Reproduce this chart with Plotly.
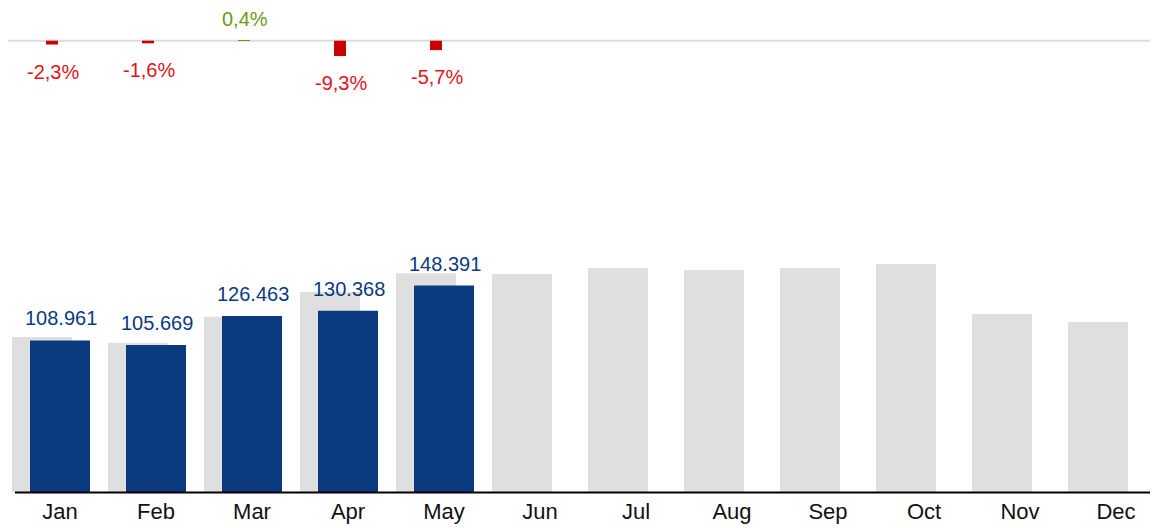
import plotly.graph_objects as go

months = ["Jan", "Feb", "Mar", "Apr", "May", "Jun", "Jul", "Aug", "Sep", "Oct", "Nov", "Dec"]
current_year = [108961, 105669, 126463, 130368, 148391]
previous_year = [111526, 107387, 125959, 143735, 157361, 156700, 161100, 159600, 161100, 163900, 128000, 122200]
pct_change = [-2.3, -1.6, 0.4, -9.3, -5.7]

BLUE = "#0b3a7e"
GRAY = "#dfdfdf"
RED_BAR = "#cc0000"
RED_TXT = "#e5121b"
GREEN = "#6e9a12"
FONT = "Arial, 'Liberation Sans', sans-serif"

# the page body adds an 8px margin; work in window pixels and convert
OFF = 8
W, H = 1158 - 2 * OFF, 528 - OFF
ML, MR, MT = 0, 0, 0
baseline_win = 492
MB = H - (baseline_win - OFF)
plot_w = W - ML - MR
plot_h = H - MT - MB
unit = 96.0                      # pixels per category
jan_center_fig = 60 - OFF - ML
x0 = -jan_center_fig / unit
xrange = [x0, x0 + plot_w / unit]

def px_to_paper_x(win_x):
    return (win_x - OFF - ML) / plot_w

def px_to_paper_y(win_y):
    return 1 - (win_y - OFF - MT) / plot_h

# bottom panel: ~719 units per pixel
bot_px = 330
bot_scale = 719.0
bot_dom = [0, bot_px / plot_h]
bot_range = [0, bot_px * bot_scale]

# top panel: zero line at window y 40.7, 1.65 px per %
zero_win = 40.7
zero_fig = zero_win - OFF - MT
top_px = 120
top_scale = 1.65
top_dom = [1 - top_px / plot_h, 1]
ymax = zero_fig / top_scale
top_range = [ymax - top_px / top_scale, ymax]

fig = go.Figure()

fig.add_trace(go.Bar(
    x=months, y=previous_year, marker=dict(color=GRAY, line=dict(width=0)),
    width=60 / unit, offset=-48 / unit, xaxis="x", yaxis="y", hoverinfo="skip",
))
fig.add_trace(go.Bar(
    x=months[:len(current_year)], y=current_year, marker=dict(color=BLUE, line=dict(width=0)),
    width=60 / unit, offset=-30 / unit, xaxis="x", yaxis="y", hoverinfo="skip",
))
fig.add_trace(go.Bar(
    x=months[:len(pct_change)], y=pct_change,
    marker=dict(color=[GREEN if p >= 0 else RED_BAR for p in pct_change], line=dict(width=0)),
    width=12 / unit, offset=-14 / unit, xaxis="x2", yaxis="y2", hoverinfo="skip",
))

annotations = []
for m, v in zip(months, current_year):
    annotations.append(dict(
        x=m, y=v, xref="x", yref="y", text=f"{v:,}".replace(",", "."),
        showarrow=False, yshift=22, xshift=1, yanchor="middle",
        font=dict(family=FONT, size=20, color=BLUE),
    ))
for m, p in zip(months, pct_change):
    annotations.append(dict(
        x=m, y=p, xref="x2", yref="y2", text=f"{p:.1f}".replace(".", ",") + "%",
        showarrow=False, yshift=(21 if p >= 0 else -27), xshift=-7, yanchor="middle",
        font=dict(family=FONT, size=20, color=(GREEN if p >= 0 else RED_TXT)),
    ))

shapes = [
    dict(type="line", xref="paper", yref="paper", x0=px_to_paper_x(7), x1=px_to_paper_x(1155),
         y0=px_to_paper_y(zero_win), y1=px_to_paper_y(zero_win),
         line=dict(color="#dcdcdc", width=2), layer="below"),
    dict(type="line", xref="paper", yref="paper", x0=px_to_paper_x(15), x1=px_to_paper_x(1160),
         y0=px_to_paper_y(baseline_win + 0.5), y1=px_to_paper_y(baseline_win + 0.5),
         line=dict(color="#000000", width=2), layer="above"),
]

fig.update_layout(
    width=W, height=H,
    margin=dict(l=ML, r=MR, t=MT, b=MB, pad=0, autoexpand=False),
    paper_bgcolor="white", plot_bgcolor="white",
    barmode="overlay", showlegend=False,
    font=dict(family=FONT, color="#000000"),
    xaxis=dict(type="category", categoryorder="array", categoryarray=months, range=xrange,
               showgrid=False, zeroline=False, showline=False, ticks="",
               ticklabelstandoff=4, automargin=False,
               tickfont=dict(family=FONT, size=22, color="#111111"), anchor="y", fixedrange=True),
    yaxis=dict(domain=bot_dom, range=bot_range, visible=False, showgrid=False, zeroline=False),
    xaxis2=dict(type="category", categoryorder="array", categoryarray=months, range=xrange,
                visible=False, anchor="y2", showgrid=False),
    yaxis2=dict(domain=top_dom, range=top_range, visible=False, showgrid=False, zeroline=False),
    annotations=annotations,
    shapes=shapes,
)

fig.write_html("out.html")
